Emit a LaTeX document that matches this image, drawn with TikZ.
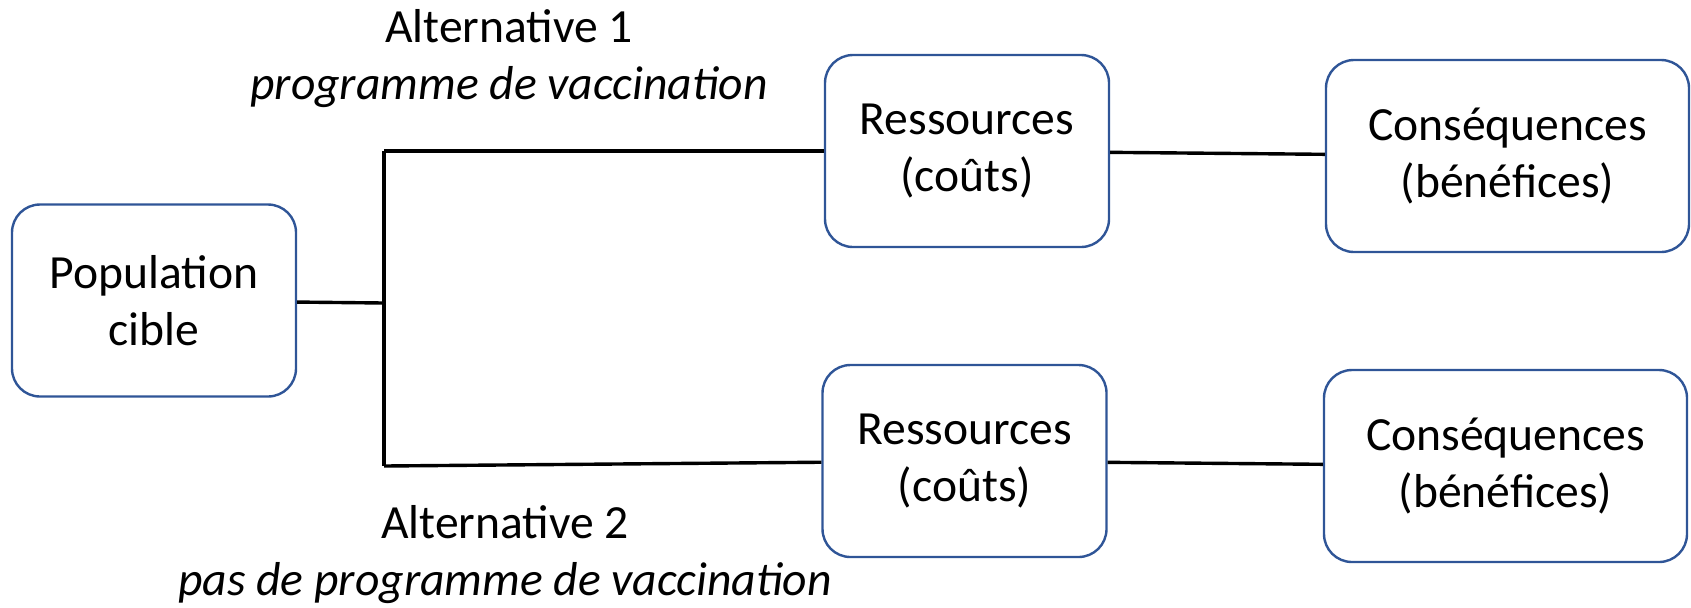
\documentclass[tikz,border=0pt]{standalone}
\usepackage{fontspec}
\setmainfont{Carlito}
\usepackage{tikz}
\usetikzlibrary{positioning}

\definecolor{boxblue}{RGB}{47,85,151}
\newcommand{\diagfont}{\fontsize{23.8pt}{28.5pt}\selectfont}

\begin{document}
\begin{tikzpicture}[x=0.5pt, y=-0.5pt,
    every node/.style={font=\diagfont},
    box/.style={draw=boxblue, line width=1.2pt, rounded corners=14pt, align=center,
                minimum height=96pt, minimum width=142pt, inner sep=0pt},
    widebox/.style={box, minimum width=181.5pt},
    branch/.style={line width=1.7pt},
    altlabel/.style={align=center}]
    \useasboundingbox (0,0) rectangle (1691,607);

    \node[box] (pop) at (154, 300.5) {Population\\cible};
    \node[box] (res1) at (967, 151) {Ressources\\(coûts)};
    \node[widebox] (cons1) at (1507.5, 156) {Conséquences\\(bénéfices)};
    \node[box] (res2) at (964.5, 461) {Ressources\\(coûts)};
    \node[widebox] (cons2) at (1505.5, 466) {Conséquences\\(bénéfices)};

    \coordinate (forktop) at (384, 151);
    \coordinate (forkmid) at (384, 303);
    \coordinate (forkbot) at (384, 466);

    \node[altlabel] (alt1) at (509, 59) {Alternative 1\\\textit{programme de vaccination}};
    \node[altlabel] (alt2) at (505, 555) {Alternative 2\\\textit{pas de programme de vaccination}};

    \draw[branch] (pop) -- (forkmid);
    \draw[branch] (forktop) -- (forkbot);
    \draw[branch] (forktop) -- (res1);
    \draw[branch] (forkbot) -- (res2);
    \draw[branch] (res1) -- (cons1);
    \draw[branch] (res2) -- (cons2);
\end{tikzpicture}
\end{document}
